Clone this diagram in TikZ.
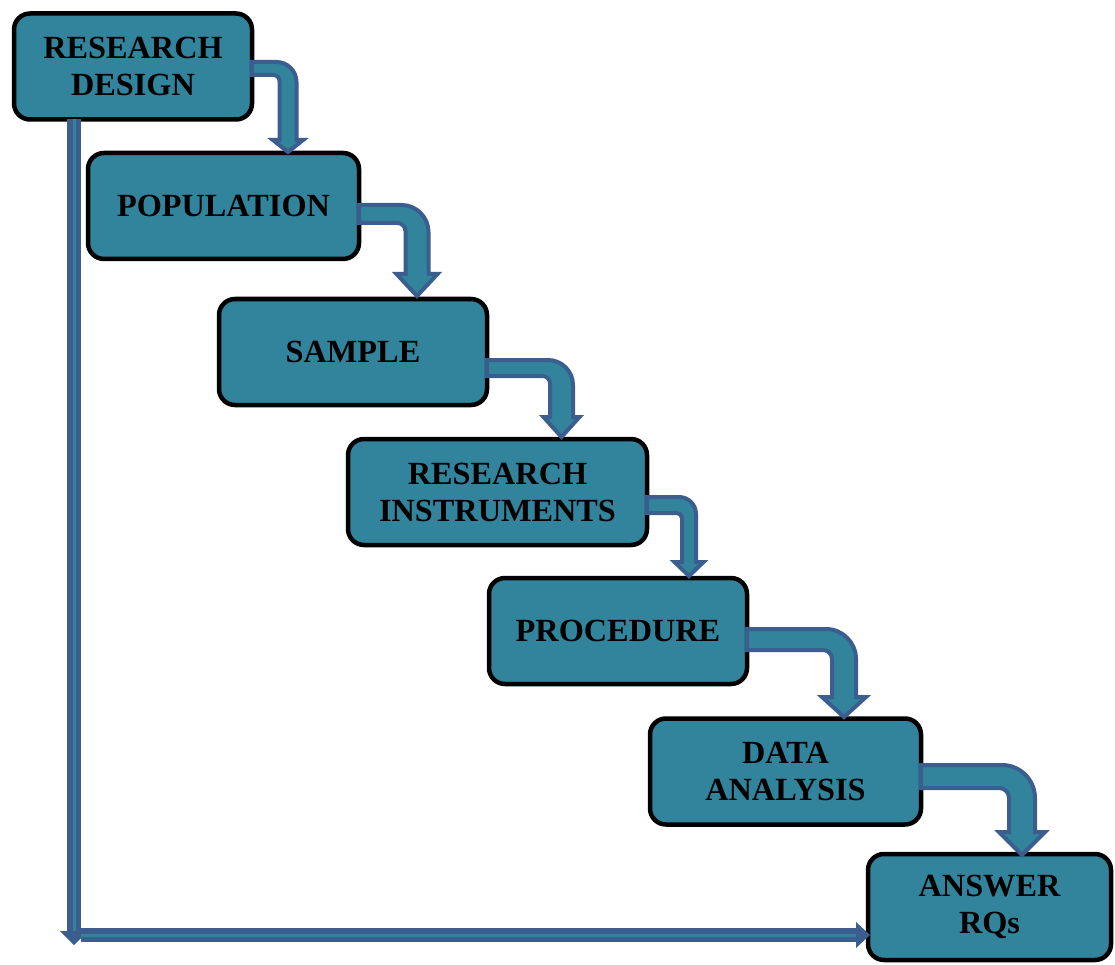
\documentclass[tikz,border=0pt]{standalone}
\usepackage{fontspec}
\setmainfont{Liberation Serif}
\usetikzlibrary{calc}
\definecolor{boxfill}{HTML}{31849B}
\definecolor{arrowline}{HTML}{3B5E8F}
\tikzset{
  stepbox/.style={draw=black, line width=4.5pt, fill=boxfill, rounded corners=16pt,
    outer sep=0pt, inner sep=0pt, align=center, minimum height=106pt,
    font=\fontsize{32.3}{37}\selectfont\bfseries},
  arrowbody/.style={draw=arrowline, fill=boxfill, line width=4pt, line join=miter},
  lshaft/.style={draw=arrowline, line width=5.5pt, double=boxfill, double distance=3pt},
  lhead/.style={fill=arrowline, draw=none}
}
% #1 node, #2 y1, #3 y2, #4 c, #5 w, #6 h, #7 yh, #8 yt, #9 R  (relative to #1.east)
\newcommand\bentarrow[9]{%
  \begin{scope}[shift={(#1.east)}]
    \path[arrowbody] (0,#2) -- ({#4+#5-#9},#2)
      .. controls ({#4+#5-0.45*#9},#2) and ({#4+#5},{#2+0.45*#9}) .. ({#4+#5},{#2+#9})
      -- ({#4+#5},#7) -- ({#4+#6},#7) -- (#4,#8) -- ({#4-#6},#7) -- ({#4-#5},#7)
      -- ({#4-#5},{#3+0.3*#9})
      .. controls ({#4-#5},{#3+0.135*#9}) and ({#4-#5-0.135*#9},#3) .. ({#4-#5-0.3*#9},#3)
      -- (0,#3) -- cycle;
  \end{scope}}
\begin{document}
\begin{tikzpicture}[x=1pt,y=-1pt]
\useasboundingbox (0,0) rectangle (1115,965);
\node[stepbox, minimum width=238pt] (b1) at (133,66.5) {RESEARCH\\DESIGN};
\node[stepbox, minimum width=271pt] (b2) at (223.5,206) {POPULATION};
\node[stepbox, minimum width=268pt] (b3) at (353,352) {SAMPLE};
\node[stepbox, minimum width=299pt] (b4) at (497.5,492) {RESEARCH\\INSTRUMENTS};
\node[stepbox, minimum width=258pt] (b5) at (618,631) {PROCEDURE};
\node[stepbox, minimum width=271pt] (b6) at (785.5,771.5) {DATA\\ANALYSIS};
\node[stepbox, minimum width=243pt] (b7) at (989.5,907) {ANSWER\\RQs};

\bentarrow{b1}{-4.5}{8.5}{36}{8.5}{15}{73.5}{85.5}{20}
\bentarrow{b2}{-1}{17}{58}{11.5}{20.5}{68}{90}{27}
\bentarrow{b3}{8}{24}{74.5}{11.5}{18}{65}{85}{25}
\bentarrow{b4}{5}{21}{42}{7}{14.5}{70}{84}{17}
\bentarrow{b5}{-2}{19}{97}{12}{22}{66}{86}{30}
\bentarrow{b6}{-6.5}{16.5}{101}{13}{23}{60.5}{83.5}{33}

\coordinate (vtop) at ([xshift=60pt]b1.south west);
\coordinate (vend) at (74,945);
\coordinate (hstart) at ($(vend)+(7,-10)$);
\coordinate (hend) at ($(b7.west)+(2,28)$);
\draw[lshaft] (vtop) -- ($(vend)+(0,-14)$);
\fill[lhead] ($(vend)+(-14,-14)$) -- ($(vend)+(14,-14)$) -- (vend) -- cycle;
\draw[lshaft] (hstart) -- ($(hend)+(-13,0)$);
\fill[lhead] ($(hend)+(-14,-13)$) -- ($(hend)+(-14,13)$) -- (hend) -- cycle;
\end{tikzpicture}
\end{document}
